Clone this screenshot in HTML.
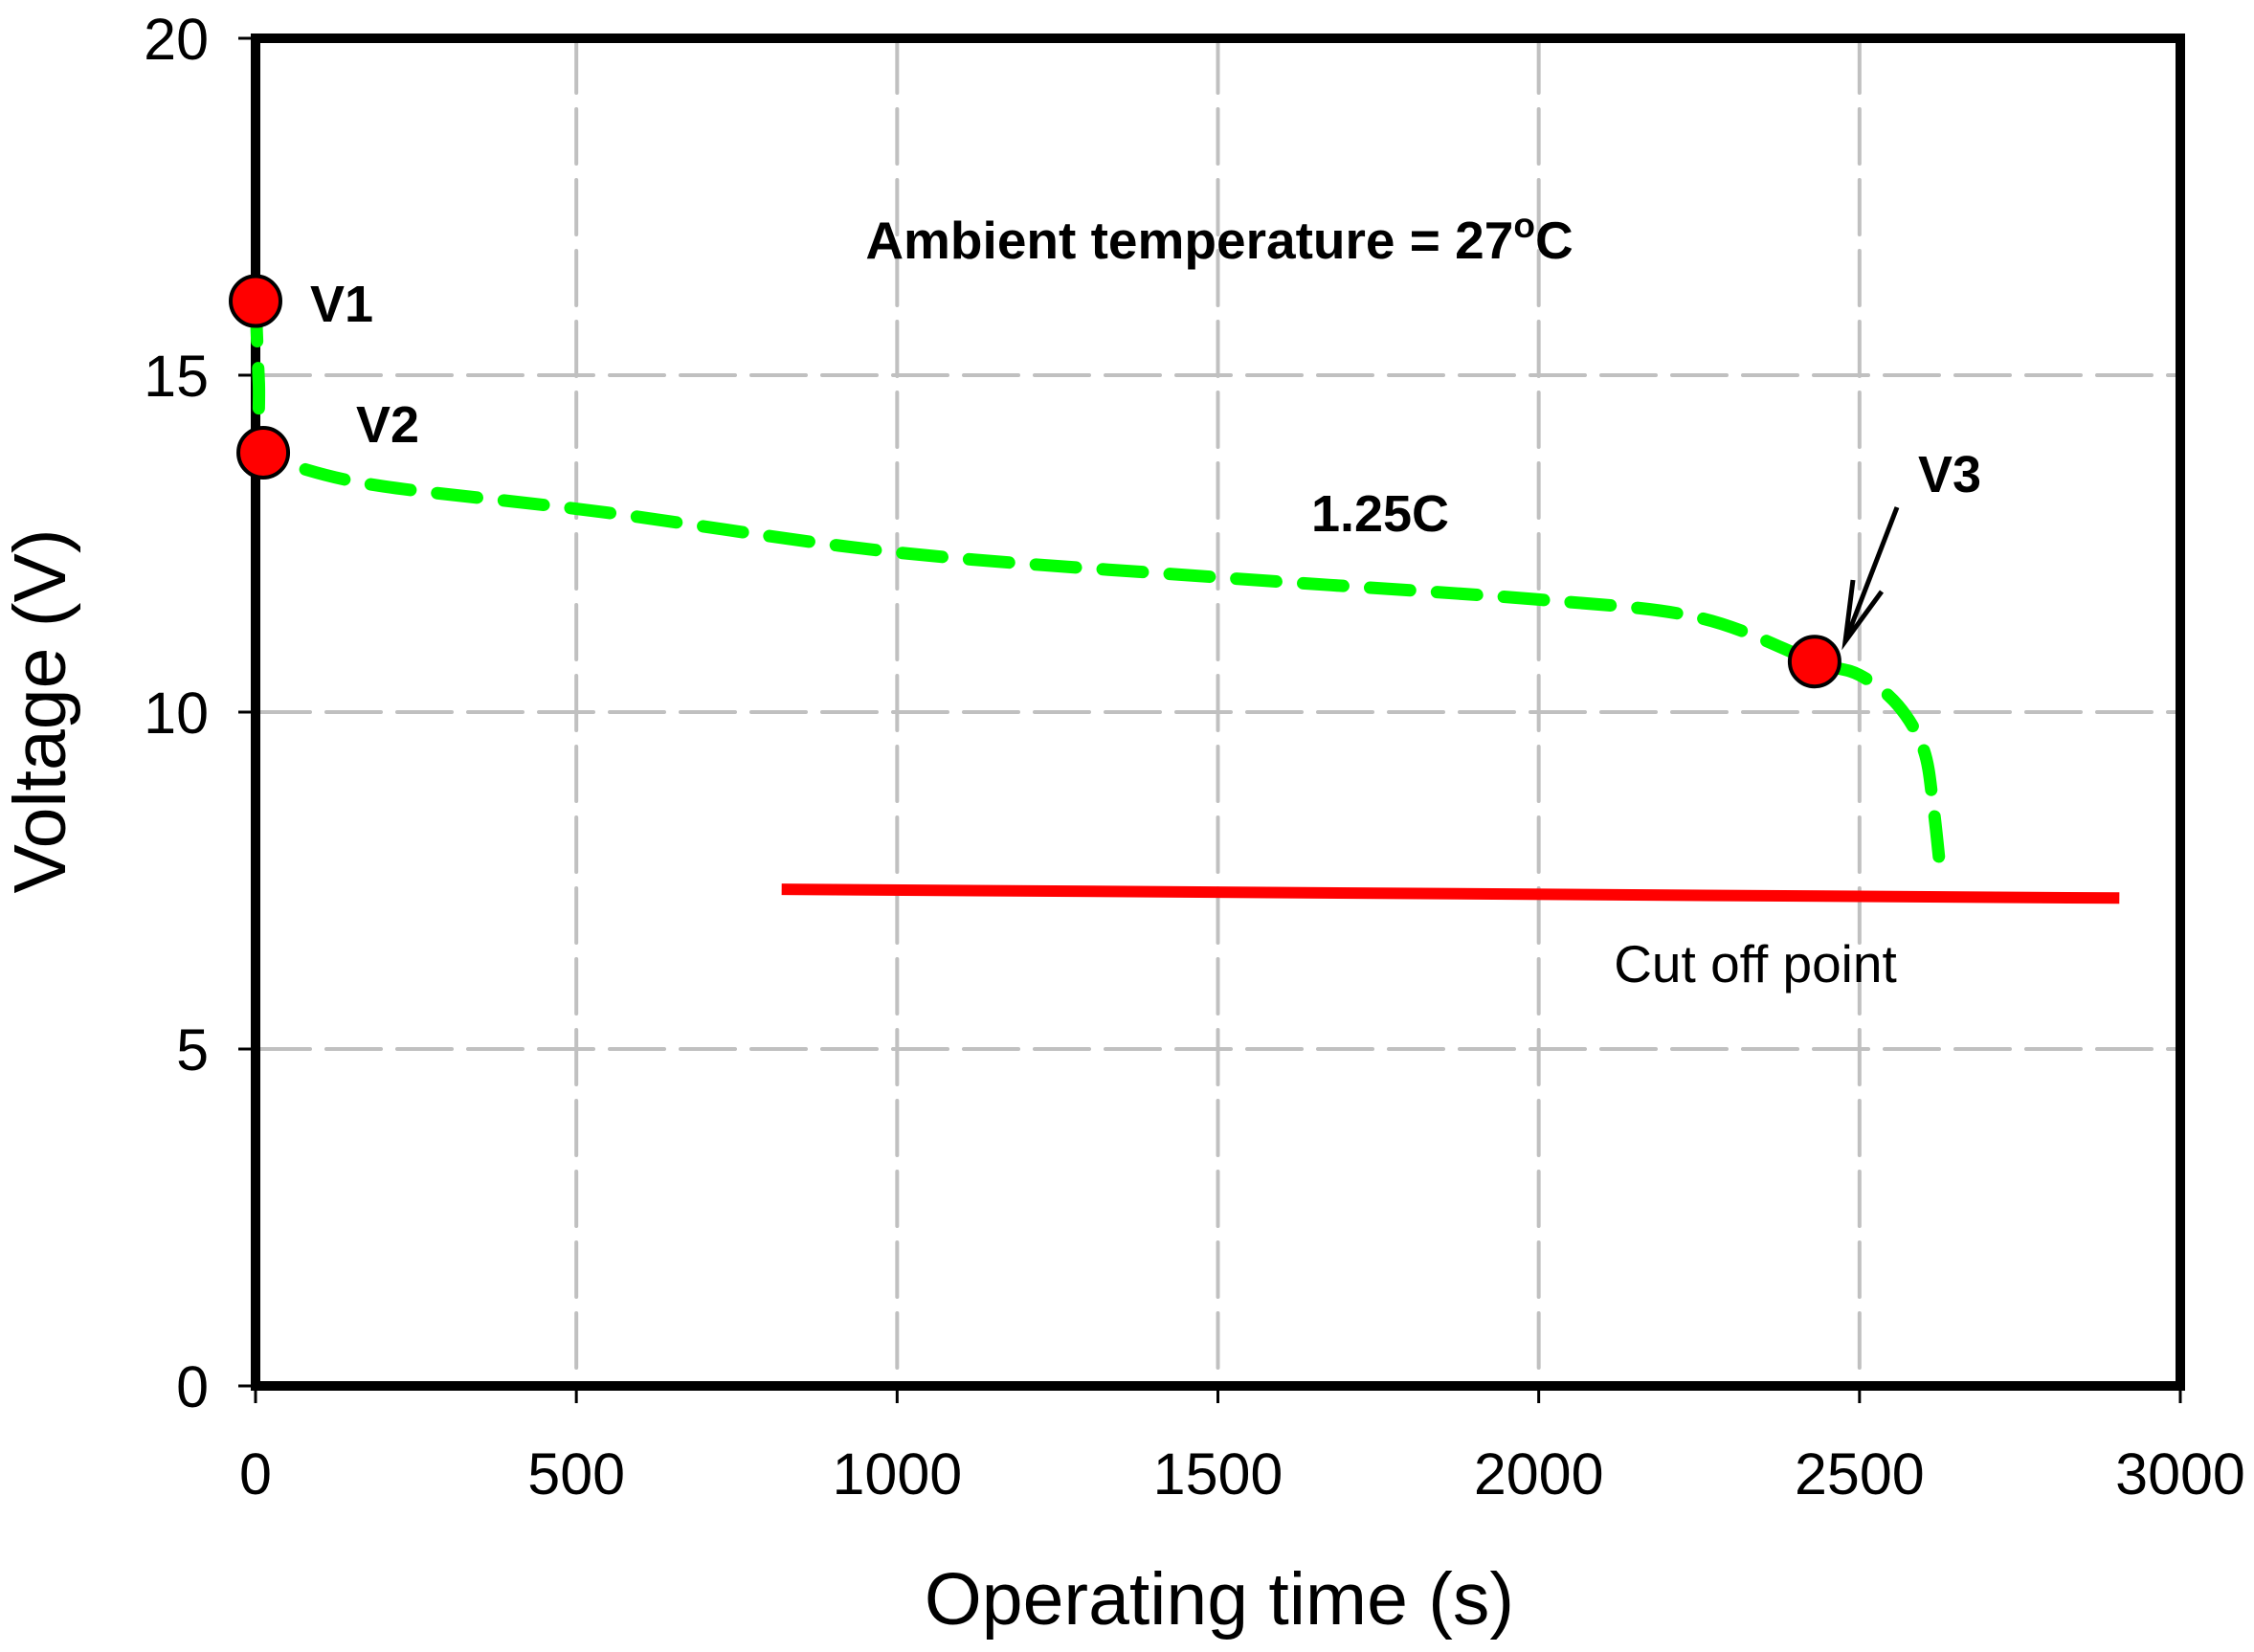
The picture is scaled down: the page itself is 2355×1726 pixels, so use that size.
<!DOCTYPE html>
<html><head><meta charset="utf-8"><style>
html,body{margin:0;padding:0;background:#fff}
svg{display:block}
text{font-family:"Liberation Sans",Arial,sans-serif;fill:#000}
</style></head><body>
<svg id="chart" width="2355" height="1726" viewBox="0 0 2355 1726" xmlns="http://www.w3.org/2000/svg">
<g id="grid"></g>
<g id="axes"></g>
<g id="series"></g>
<text x="1274" y="270" font-size="55" font-weight="bold" text-anchor="middle">Ambient temperature = 27<tspan dy="-22" font-size="37">o</tspan><tspan dy="22">C</tspan></text>
<text transform="translate(68,743) rotate(-90)" font-size="77" text-anchor="middle">Voltage (V)</text>
<text x="1274" y="1697" font-size="77" text-anchor="middle">Operating time (s)</text>
</svg>
<script>
const xTicks=[0,500,1000,1500,2000,2500,3000];
const yTicks=[0,5,10,15,20];
const curveTime=[0,5,10,60,200,540,1000,1500,2000,2250,2430,2500,2560,2600,2615,2626];
const curveVolt=[16.1,14.9,13.85,13.65,13.35,12.97,12.37,12.0,11.67,11.4,10.75,10.55,10.1,9.44,8.6,7.64];
const markerTime=[0,12,2430];
const markerVolt=[16.1,13.85,10.75];
const markerLabels=['V1','V2','V3'];
const cutoffTime=[820,2905];
const cutoffVolt=[7.37,7.24];

const NS='http://www.w3.org/2000/svg';
const X0=267,X1=2278,Y0=1448,Y1=40;
const sx=t=>X0+(t-0)/3000*(X1-X0);
const sy=v=>Y0-(v-0)/20*(Y0-Y1);
function mk(tag,attrs,parent){const e=document.createElementNS(NS,tag);for(const k in attrs)e.setAttribute(k,attrs[k]);parent.appendChild(e);return e;}
const grid=document.getElementById('grid'),axes=document.getElementById('axes'),series=document.getElementById('series');

xTicks.forEach(t=>{
  if(t>0&&t<3000){const g=mk('line',{x1:sx(t),x2:sx(t),y1:Y1,y2:Y0,stroke:'#c0c0c0','stroke-width':4,'stroke-dasharray':'57 17','stroke-linecap':'round'},grid);
  
  }
  const tk=mk('line',{x1:sx(t),x2:sx(t),y1:Y0,y2:Y0+18,stroke:'#000','stroke-width':3},axes);
  
  
  const lb=mk('text',{x:sx(t),y:1561,'font-size':61,'text-anchor':'middle'},axes);lb.textContent=t;
  
  
});
yTicks.forEach(v=>{
  if(v>0&&v<20){const g=mk('line',{x1:X0,x2:X1,y1:sy(v),y2:sy(v),stroke:'#c0c0c0','stroke-width':4,'stroke-dasharray':'57 17','stroke-linecap':'round'},grid);
  
  }
  const tk=mk('line',{x1:X0-18,x2:X0,y1:sy(v),y2:sy(v),stroke:'#000','stroke-width':3},axes);
  
  
  const lb=mk('text',{x:218,y:sy(v)+22,'font-size':61,'text-anchor':'end'},axes);lb.textContent=v;
  
  
});
const frame=mk('rect',{x:X0,y:Y1,width:X1-X0,height:Y0-Y1,fill:'none',stroke:'#000','stroke-width':10},axes);



const cut=mk('line',{x1:sx(cutoffTime[0]),y1:sy(cutoffVolt[0]),x2:sx(cutoffTime[1]),y2:sy(cutoffVolt[1]),stroke:'#ff0000','stroke-width':12},series);


const cl=mk('text',{x:1834,y:1026,'font-size':55,'text-anchor':'middle'},series);cl.textContent='Cut off point';



const pts=curveTime.map((t,i)=>[sx(t),sy(curveVolt[i])]);
let d='M'+pts[0][0].toFixed(1)+' '+pts[0][1].toFixed(1);
for(let i=0;i<pts.length-1;i++){
  const p0=pts[Math.max(0,i-1)],p1=pts[i],p2=pts[i+1],p3=pts[Math.min(pts.length-1,i+2)];
  const c1=[p1[0]+(p2[0]-p0[0])/6,p1[1]+(p2[1]-p0[1])/6],c2=[p2[0]-(p3[0]-p1[0])/6,p2[1]-(p3[1]-p1[1])/6];
  d+=' C'+c1.map(n=>n.toFixed(1)).join(' ')+' '+c2.map(n=>n.toFixed(1)).join(' ')+' '+p2.map(n=>n.toFixed(1)).join(' ');
}
const curve=mk('path',{d:d,fill:'none',stroke:'#00ff00','stroke-width':13,'stroke-dasharray':'42 28','stroke-linecap':'round','stroke-linejoin':'round'},series);


const cr=mk('text',{x:1442,y:555,'font-size':54,'font-weight':'bold','text-anchor':'middle'},series);cr.textContent='1.25C';



const labPos=[[324,336],[372,462],[2004,514]];
markerTime.forEach((t,i)=>{
  const c=mk('circle',{cx:sx(t),cy:sy(markerVolt[i]),r:26,fill:'#ff0000',stroke:'#000','stroke-width':4},series);
  
  
  const l=mk('text',{x:labPos[i][0],y:labPos[i][1],'font-size':54,'font-weight':'bold'},series);l.textContent=markerLabels[i];
  
  
});
const ar=mk('g',{},series);


mk('line',{x1:1982,y1:530,x2:1930,y2:665,stroke:'#000','stroke-width':5},ar);
mk('polyline',{points:'1936,606 1928,670 1966,618',fill:'none',stroke:'#000','stroke-width':5},ar);
</script>
</body></html>
